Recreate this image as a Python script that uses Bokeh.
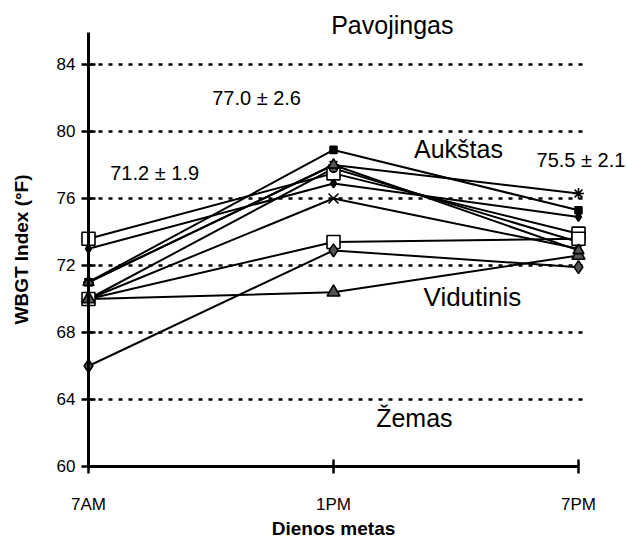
from bokeh.plotting import figure
from bokeh.models import Label, Range1d, FixedTicker, LinearAxis
from bokeh.embed import file_html
from bokeh.resources import INLINE

times = ["7AM", "1PM", "7PM"]
xpos = [0, 1, 2]

# WBGT index readings (°F) per site, at 7AM, 1PM, 7PM
s_asterisk = [71.0, 78.0, 76.3]
s_dash = [71.0, 78.9, 75.3]
s_smalldiamond = [73.0, 76.9, 74.9]
s_square_a = [73.6, 77.5, 73.9]
s_circle = [70.0, 77.8, 73.4]
s_x = [70.0, 76.0, 73.0]
s_square_b = [70.0, 73.4, 73.6]
s_diamond = [66.0, 72.9, 71.9]
s_triangle_low = [70.0, 70.4, 72.6]
s_triangle = [71.0, 78.0, 72.9]

yticks = [60, 64, 68, 72, 76, 80, 84]
grid_levels = [64, 68, 72, 76, 80, 84]

mean_labels = ["71.2 ± 1.9", "77.0 ± 2.6", "75.5 ± 2.1"]
zone_labels = ["Pavojingas", "Aukštas", "Vidutinis", "Žemas"]

FONT = "Liberation Sans"

p = figure(width=627, height=546, output_backend="svg", toolbar_location=None,
           x_range=Range1d(-0.3592, 2.2), y_range=Range1d(55.224, 87.82),
           x_axis_type=None, y_axis_type=None,
           min_border_left=0, min_border_right=0, min_border_top=0,
           min_border_bottom=0)
p.outline_line_color = None
p.background_fill_color = "white"
p.border_fill_color = "white"
p.grid.visible = False

xaxis = LinearAxis(fixed_location=60, bounds=(0, 2),
                   ticker=FixedTicker(ticks=xpos),
                   major_label_overrides={x: t for x, t in zip(xpos, times)},
                   axis_label="Dienos metas")
yaxis = LinearAxis(fixed_location=0, bounds=(60, 85.9),
                   ticker=FixedTicker(ticks=yticks),
                   axis_label="WBGT Index (°F)")
for ax in (xaxis, yaxis):
    ax.axis_line_width = 3
    ax.axis_line_color = "black"
    ax.major_tick_line_width = 2.5
    ax.major_tick_line_color = "black"
    ax.major_tick_in = 7
    ax.major_tick_out = 7
    ax.minor_tick_line_color = None
    ax.major_label_text_font = FONT
    ax.major_label_text_font_size = "17px"
    ax.major_label_text_color = "black"
    ax.axis_label_text_font = FONT
    ax.axis_label_text_font_style = "bold"
    ax.axis_label_text_font_size = "19px"
    ax.axis_label_text_color = "black"
xaxis.major_label_standoff = 22
xaxis.axis_label_standoff = 0
yaxis.major_label_standoff = 6
yaxis.axis_label_standoff = 22
p.add_layout(xaxis, "below")
p.add_layout(yaxis, "left")

# dotted reference lines at the grid levels
p.segment(x0=[0] * len(grid_levels), y0=grid_levels,
          x1=[2.03] * len(grid_levels), y1=grid_levels,
          line_color="black", line_width=2.5, line_dash="4 6")

GRAY = "#555555"
series = [
    (s_asterisk, "asterisk", 11, None),
    (s_dash, "square", 7, "black"),
    (s_smalldiamond, "diamond", 9, "black"),
    (s_square_a, "square", 13, "white"),
    (s_circle, "circle", 8, GRAY),
    (s_x, "x", 14, None),
    (s_square_b, "square", 13, "white"),
    (s_diamond, "diamond", 13, GRAY),
    (s_triangle_low, "triangle", 13, GRAY),
    (s_triangle, "triangle", 11, GRAY),
]
for ys, marker, size, fill in series:
    p.line(xpos, ys, line_color="black", line_width=2)
for ys, marker, size, fill in series:
    p.scatter(xpos, ys, marker=marker, size=size,
              fill_color=fill if fill else None, line_color="black",
              line_width=1.6)

def lab(text, x, y, size, style="normal"):
    p.add_layout(Label(x=x, y=y, text=text, text_align="center",
                       text_baseline="middle", text_font=FONT,
                       text_font_size=size, text_font_style=style,
                       text_color="black"))

lab(mean_labels[0], 0.27, 77.5, "20px")
lab(mean_labels[1], 0.686, 81.97, "20px")
lab(mean_labels[2], 2.01, 78.27, "20px")
lab(zone_labels[0], 1.24, 86.33, "25px")
lab(zone_labels[1], 1.51, 78.98, "25px")
lab(zone_labels[2], 1.567, 70.1, "26px")
lab(zone_labels[3], 1.33, 62.9, "25px")

open("out.html", "w").write(file_html(p, INLINE))
